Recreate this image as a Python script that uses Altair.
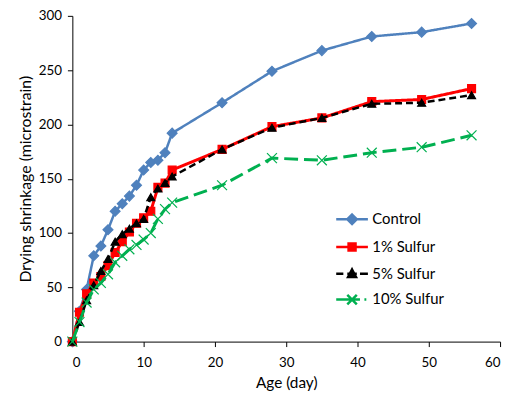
import altair as alt
import pandas as pd

days = [0, 1, 2, 3, 4, 5, 6, 7, 8, 9, 10, 11, 12, 13, 14, 21, 28, 35, 42, 49, 56]
control = [0, 28, 48, 79, 88, 103, 120, 127, 134, 144, 158, 165, 167, 174, 192, 220, 249, 268, 281, 285, 293]
sulfur1 = [0, 27, 44, 54, 60, 70, 82, 92, 101, 109, 114, 120, 142, 146, 158, 177, 198, 206, 221, 223, 233]
sulfur5 = [0, 18, 38, 52, 65, 76, 92, 99, 104, 109, 113, 133, 141, 146, 152, 177, 197, 206, 219, 220, 227]
sulfur10 = [0, 18, 36, 48, 54, 62, 73, 79, 85, 89, 94, 100, 113, 122, 128, 144, 169, 167, 174, 179, 190]
series_names = ["Control", "1% Sulfur", "5% Sulfur", "10% Sulfur"]
x_ticks = [0, 10, 20, 30, 40, 50, 60]
y_ticks = [0, 50, 100, 150, 200, 250, 300]

values = [control, sulfur1, sulfur5, sulfur10]
rows = []
for name, vals in zip(series_names, values):
    for d, v in zip(days, vals):
        rows.append({"day": d, "shrinkage": v, "series": name})
df = pd.DataFrame(rows)

colors = ["#4F81BD", "#FF0000", "#000000", "#00B050"]
dashes = [[1, 0], [1, 0], [7, 4], [14, 6]]
widths = [2.5, 3, 2.5, 3]
shapes = ["diamond", "square", "triangle-up", "M-1,-1L1,1M-1,1L1,-1"]
sizes = [100, 64, 64, 100]
legend_paths = [
    "M-1,0H1M0,-0.3L0.3,0L0,0.3L-0.3,0Z",
    "M-1,0H1M-0.22,-0.22H0.22V0.22H-0.22Z",
    "M-1,0H-0.55M-0.3,0H0.3M0.5,0H1M0,-0.27L0.25,0.2L-0.25,0.2Z",
    "M-1,0H0.5M0.78,0H0.9M-0.3,-0.3L0.3,0.3M-0.3,0.3L0.3,-0.3",
]

x_enc = alt.X("day:Q", scale=alt.Scale(domain=[0, 60], nice=False),
              axis=alt.Axis(values=x_ticks, title="Age (day)"))
y_enc = alt.Y("shrinkage:Q", scale=alt.Scale(domain=[0, 300], nice=False),
              axis=alt.Axis(values=y_ticks, title="Drying shrinkage (microstrain)"))

base = alt.Chart(df)
layers = []
for name, c, dsh, w, shp, sz in zip(series_names, colors, dashes, widths, shapes, sizes):
    sub = base.transform_filter(alt.datum.series == name)
    layers.append(sub.mark_line(color=c, strokeWidth=w, strokeDash=dsh, clip=False).encode(x=x_enc, y=y_enc))
    fill = "transparent" if shp.startswith("M") else c
    layers.append(sub.mark_point(shape=shp, size=sz, fill=fill, stroke=c, strokeWidth=1.2,
                                 opacity=1, filled=False, clip=False).encode(x=x_enc, y=y_enc))

leg = alt.Legend(orient="none", legendX=265, legendY=188, title=None, symbolSize=1024,
                 symbolStrokeWidth=2.5, labelFont="Lato", labelFontSize=15, labelColor="black",
                 rowPadding=0, padding=0, labelOffset=3)
legend_layer = base.mark_point(filled=True, opacity=1, size=1024).encode(
    x=x_enc, y=y_enc,
    fill=alt.Fill("series:N", scale=alt.Scale(domain=series_names, range=colors), legend=leg),
    stroke=alt.Stroke("series:N", scale=alt.Scale(domain=series_names, range=colors), legend=leg),
    shape=alt.Shape("series:N", scale=alt.Scale(domain=series_names, range=legend_paths), legend=leg),
).transform_filter("false")

chart = alt.layer(*layers, legend_layer).properties(
    width=432, height=329,
    autosize=alt.AutoSizeParams(type="none"),
    padding={"left": 65, "top": 6, "right": 8, "bottom": 53},
    background="white",
).configure_axis(
    grid=False, domainColor="black", tickColor="black", tickSize=5, domainWidth=1,
    labelFont="Lato", labelFontSize=13.5, labelColor="black",
    titleFont="Lato", titleFontSize=15.5, titleFontWeight="normal", titleColor="black",
).configure_axisY(labelPadding=6, titlePadding=5, titleFontSize=16).configure_axisX(labelPadding=9, titlePadding=7
).configure_view(stroke=None)

chart.save("out.html", embed_options={"renderer": "svg", "actions": False})
